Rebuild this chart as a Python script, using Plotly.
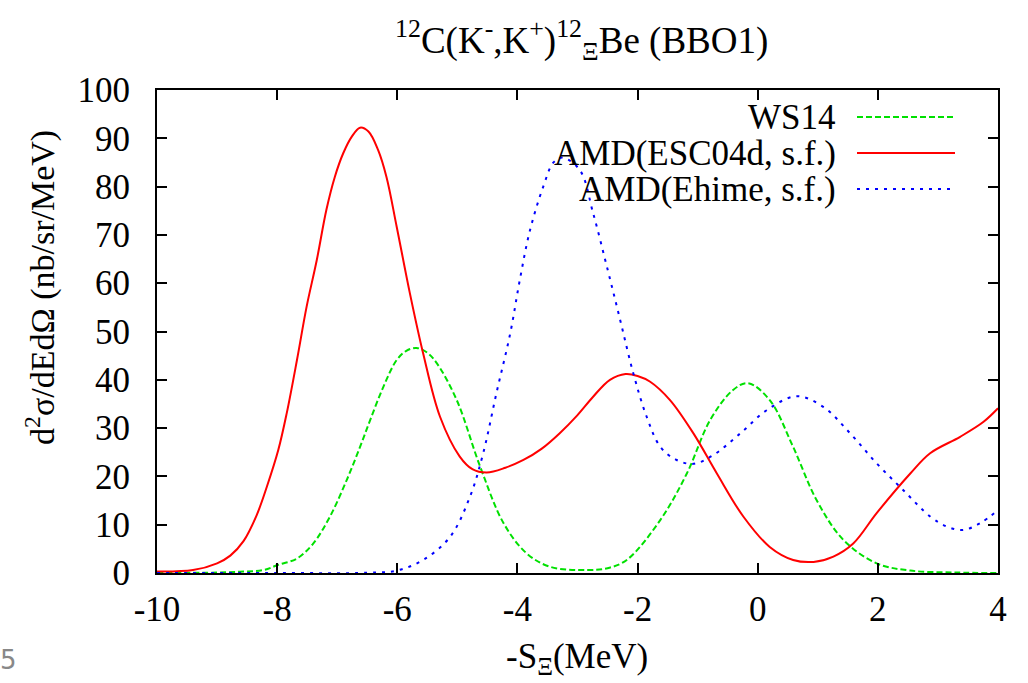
import plotly.graph_objects as go

# ---- data ----
ws14_x = [-10, -9, -8.56, -8.23, -7.98, -7.67, -7.40, -7.12, -6.84, -6.62, -6.45, -6.23, -6.01,
          -5.85, -5.68, -5.50, -5.34, -5.01, -4.62, -4.23, -3.85, -3.46, -2.85, -2.5, -2.18,
          -1.62, -1.18, -0.79, -0.41, -0.16, 0.20, 0.59, 0.98, 1.43, 1.98, 2.54, 3.3, 4.0]
ws14_y = [0.0, 0.1, 0.3, 0.6, 1.7, 3.0, 6.1, 11.7, 19.3, 26.1, 31.7, 38.6, 44.1,
          46.0, 46.6, 45.6, 43.4, 35.8, 22.0, 10.3, 4.1, 1.3, 0.6, 1.0, 2.7,
          11.0, 20.6, 31.7, 37.9, 39.3, 35.8, 26.1, 15.1, 6.8, 2.0, 0.5, 0.1, 0.0]

esc_x = [-10, -9.40, -9.0, -8.78, -8.56, -8.34, -8.17, -7.98, -7.84, -7.67, -7.51, -7.34, -7.18,
         -7.04, -6.90, -6.76, -6.62, -6.48, -6.32, -6.18, -6.01, -5.79, -5.57, -5.29, -4.96,
         -4.75, -4.51, -4.2, -3.9, -3.6, -3.3, -3.0, -2.74, -2.46, -2.2, -2.0, -1.79, -1.46,
         -1.07, -0.68, -0.24, 0.20, 0.59, 0.93, 1.26, 1.59, 1.98, 2.54, 2.87, 3.37, 3.76, 4.0]
esc_y = [0.3, 0.6, 2.0, 3.6, 6.6, 12.0, 17.9, 25.5, 33.1, 44.1, 55.1, 64.8, 75.2,
         82.0, 86.9, 90.3, 92.2, 91.4, 87.6, 82.0, 71.7, 57.9, 45.5, 32.4, 24.1,
         21.5, 20.8, 21.8, 23.4, 25.7, 28.9, 32.7, 36.5, 40.0, 41.2, 40.8, 39.6, 35.8,
         28.9, 20.6, 11.7, 5.4, 2.7, 2.3, 3.4, 6.1, 12.4, 20.6, 24.8, 28.2, 31.3, 34.1]

ehime_x = [-10, -8, -6.5, -6.01, -5.57, -5.12, -4.79, -4.57, -4.35, -4.12, -3.96, -3.79, -3.57,
           -3.4, -3.25, -2.96, -2.74, -2.51, -2.29, -2.07, -1.85, -1.62, -1.35, -1.07, -0.74,
           -0.29, 0.15, 0.65, 1.09, 1.54, 1.98, 2.42, 2.87, 3.15, 3.42, 3.70, 4.0]
ehime_y = [0, 0, 0.05, 0.5, 2.7, 7.5, 15.8, 24.8, 37.2, 49.6, 60.7, 71.0, 80.0,
           85.0, 86.0, 83.4, 74.5, 63.4, 52.4, 41.3, 32.4, 26.1, 23.4, 22.6, 24.4,
           28.9, 33.7, 36.6, 34.4, 28.9, 22.7, 17.2, 11.7, 9.6, 8.9, 10.3, 13.0]

x_ticks = [-10, -8, -6, -4, -2, 0, 2, 4]
y_ticks = [0, 10, 20, 30, 40, 50, 60, 70, 80, 90, 100]

series = [
    ("WS14", ws14_x, ws14_y, "#00e000", "6px,3px"),
    ("AMD(ESC04d, s.f.)", esc_x, esc_y, "#ff0000", "solid"),
    ("AMD(Ehime, s.f.)", ehime_x, ehime_y, "#0000ff", "3px,6px"),
]

FONT = "Liberation Serif, Times New Roman, Times, serif"
W, H = 1028, 683
L, R, T, B = 157, 30, 90, 110
pw, ph = W - L - R, H - T - B

def px(xp):
    return (xp - L) / pw

def py(yp):
    return (H - B - yp) / ph

fig = go.Figure()
for name, xs, ys, col, dash in series:
    fig.add_trace(go.Scatter(x=xs, y=ys, mode="lines", name=name, showlegend=False,
                             line=dict(color=col, width=2, dash=dash, shape="spline", smoothing=1.0)))

annotations = []
shapes = []
leg_y = [117, 153, 189]
for (name, xs, ys, col, dash), yy in zip(series, leg_y):
    annotations.append(dict(text=name, xref="paper", yref="paper", x=px(838), y=py(yy),
                            xanchor="right", yanchor="middle", showarrow=False,
                            font=dict(family=FONT, size=35, color="black")))
    shapes.append(dict(type="line", xref="paper", yref="paper", x0=px(857), x1=px(955),
                       y0=py(yy), y1=py(yy), line=dict(color=col, width=2, dash=dash)))

annotations.append(dict(text="<sup>12</sup>C(K<sup>-</sup>,K<sup>+</sup>)<sup>12</sup><sub>Ξ</sub>Be (BBO1)",
                        xref="paper", yref="paper", x=px(581), y=py(40), xanchor="center",
                        yanchor="middle", showarrow=False,
                        font=dict(family=FONT, size=37, color="black")))
annotations.append(dict(text="-S<sub>Ξ</sub>(MeV)", xref="paper", yref="paper", x=px(577), y=py(658),
                        xanchor="center", yanchor="middle", showarrow=False,
                        font=dict(family=FONT, size=35, color="black")))
annotations.append(dict(text="d<sup>2</sup>σ/dEdΩ (nb/sr/MeV)", xref="paper", yref="paper",
                        x=px(40), y=py(287), xanchor="center", yanchor="middle", textangle=-90,
                        showarrow=False, font=dict(family=FONT, size=34, color="black")))
annotations.append(dict(text="5", xref="paper", yref="paper", x=px(8), y=py(660),
                        xanchor="center", yanchor="middle", showarrow=False,
                        font=dict(family="DejaVu Sans", size=26, color="#888888")))

axis_common = dict(showline=True, linecolor="black", linewidth=2, mirror="ticks",
                   ticks="inside", ticklen=10, tickwidth=1.5, tickcolor="black",
                   showgrid=False, zeroline=False,
                   tickfont=dict(family=FONT, size=35, color="black"))

fig.update_layout(
    width=W, height=H,
    margin=dict(l=L, r=R, t=T, b=B),
    paper_bgcolor="white", plot_bgcolor="white",
    font=dict(family=FONT, color="black"),
    xaxis=dict(range=[-10, 4], tickvals=x_ticks, ticktext=[str(v) for v in x_ticks],
               ticklabelstandoff=4, **axis_common),
    yaxis=dict(range=[0, 100], tickvals=y_ticks, ticktext=[str(v) for v in y_ticks],
               ticklabelstandoff=18, **axis_common),
    annotations=annotations, shapes=shapes,
)

fig.write_html("out.html")
